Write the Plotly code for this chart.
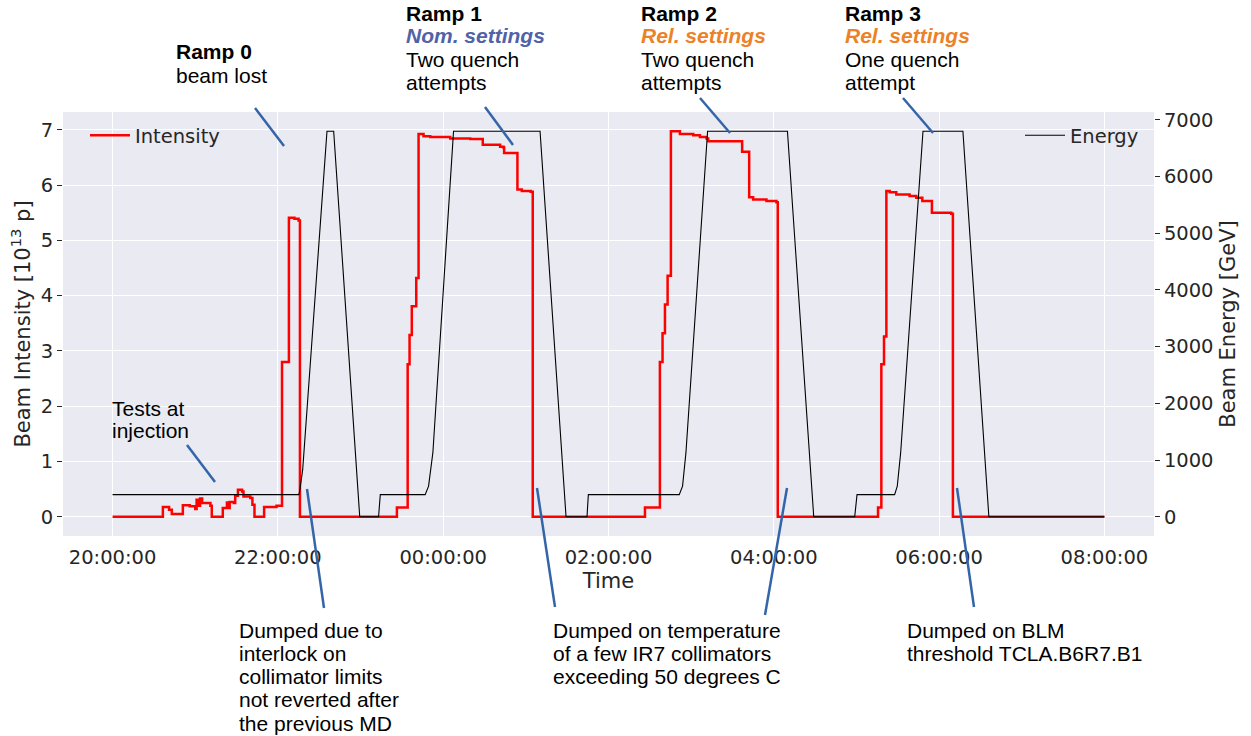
import plotly.graph_objects as go

# ---------------- data ----------------
intensity_time = [
    "2022-07-12 20:00:00", "2022-07-12 20:36:30", "2022-07-12 20:41:00", "2022-07-12 20:43:00",
    "2022-07-12 20:51:00", "2022-07-12 20:56:00", "2022-07-12 21:00:00", "2022-07-12 21:01:00",
    "2022-07-12 21:02:30", "2022-07-12 21:03:30", "2022-07-12 21:05:00", "2022-07-12 21:11:00",
    "2022-07-12 21:12:00", "2022-07-12 21:20:00", "2022-07-12 21:23:00", "2022-07-12 21:24:00",
    "2022-07-12 21:25:00", "2022-07-12 21:28:00", "2022-07-12 21:29:00", "2022-07-12 21:31:00",
    "2022-07-12 21:34:00", "2022-07-12 21:35:00", "2022-07-12 21:40:00", "2022-07-12 21:41:30",
    "2022-07-12 21:43:00", "2022-07-12 21:50:00", "2022-07-12 21:59:00", "2022-07-12 22:03:00",
    "2022-07-12 22:08:00", "2022-07-12 22:12:00", "2022-07-12 22:15:00", "2022-07-12 22:16:00",
    "2022-07-12 23:26:24", "2022-07-12 23:34:12", "2022-07-12 23:35:35", "2022-07-12 23:37:12",
    "2022-07-12 23:40:26", "2022-07-12 23:42:07", "2022-07-12 23:45:43", "2022-07-12 23:50:35",
    "2022-07-13 00:05:06", "2022-07-13 00:19:34", "2022-07-13 00:28:44", "2022-07-13 00:41:20",
    "2022-07-13 00:43:44", "2022-07-13 00:44:13", "2022-07-13 00:53:53", "2022-07-13 00:57:04",
    "2022-07-13 01:03:32", "2022-07-13 01:05:00", "2022-07-13 02:26:28", "2022-07-13 02:37:19",
    "2022-07-13 02:39:14", "2022-07-13 02:40:59", "2022-07-13 02:42:54", "2022-07-13 02:45:18",
    "2022-07-13 02:51:50", "2022-07-13 03:01:30", "2022-07-13 03:06:22", "2022-07-13 03:11:10",
    "2022-07-13 03:12:22", "2022-07-13 03:37:01", "2022-07-13 03:42:07", "2022-07-13 03:45:00",
    "2022-07-13 03:54:40", "2022-07-13 04:01:55", "2022-07-13 04:02:53", "2022-07-13 05:15:40",
    "2022-07-13 05:18:04", "2022-07-13 05:20:00", "2022-07-13 05:21:43", "2022-07-13 05:24:07",
    "2022-07-13 05:28:55", "2022-07-13 05:38:35", "2022-07-13 05:43:26", "2022-07-13 05:47:49",
    "2022-07-13 05:54:47", "2022-07-13 06:08:49", "2022-07-13 06:10:01", "2022-07-13 08:00:00",
]
intensity_value = [
    0.0, 0.18, 0.13, 0.05,
    0.21, 0.19, 0.14, 0.31,
    0.20, 0.33, 0.25, 0.20,
    0.0, 0.16, 0.26, 0.16,
    0.27, 0.25, 0.38, 0.49,
    0.46, 0.37, 0.34, 0.22,
    0.0, 0.18, 0.20, 2.80,
    5.41, 5.39, 5.36, 0.0,
    0.17, 2.76, 3.29, 3.81,
    4.32, 6.92, 6.88, 6.87,
    6.84, 6.83, 6.73, 6.69,
    6.68, 6.58, 5.92, 5.89,
    5.88, 0.0, 0.17, 2.80,
    3.32, 3.84, 4.36, 6.97,
    6.92, 6.90, 6.87, 6.84,
    6.79, 6.60, 5.78, 5.74,
    5.71, 5.69, 0.0, 0.17,
    2.76, 3.26, 5.89, 5.87,
    5.83, 5.80, 5.77, 5.71,
    5.50, 5.48, 0.0, 0.0,
]

energy_time = [
    "2022-07-12 20:00:00", "2022-07-12 22:15:07", "2022-07-12 22:15:50", "2022-07-12 22:16:48",
    "2022-07-12 22:18:00", "2022-07-12 22:35:38", "2022-07-12 22:40:30", "2022-07-12 22:59:24",
    "2022-07-12 23:13:05", "2022-07-12 23:14:20", "2022-07-12 23:46:55", "2022-07-12 23:49:23",
    "2022-07-12 23:51:04", "2022-07-12 23:52:30", "2022-07-13 00:07:30", "2022-07-13 01:10:19",
    "2022-07-13 01:29:10", "2022-07-13 01:44:24", "2022-07-13 01:45:22", "2022-07-13 02:51:22",
    "2022-07-13 02:53:46", "2022-07-13 02:54:58", "2022-07-13 02:56:13", "2022-07-13 03:11:56",
    "2022-07-13 04:09:54", "2022-07-13 04:28:59", "2022-07-13 04:58:44", "2022-07-13 05:00:25",
    "2022-07-13 05:27:43", "2022-07-13 05:29:38", "2022-07-13 05:30:50", "2022-07-13 05:32:06",
    "2022-07-13 05:48:18", "2022-07-13 06:17:17", "2022-07-13 06:36:07", "2022-07-13 08:00:00",
]
energy_value = [
    390, 390, 450, 600,
    830, 6800, 6800, 0,
    0, 390, 390, 540,
    830, 1130, 6800, 6800,
    0, 0, 390, 390,
    540, 830, 1130, 6800,
    6800, 0, 0, 390,
    390, 540, 830, 1130,
    6800, 6800, 0, 0,
]

x_tick_start = "2022-07-12 20:00:00"
x_range = ["2022-07-12 19:24:00", "2022-07-13 08:36:00"]
intensity_range = [-0.346, 7.32]
energy_range = [-340, 7140]

# ---------------- layout helpers ----------------
W, H = 1251, 736
PL, PR, PT, PB = 63, 1154, 112, 536
TEXT_FONT = "Liberation Sans, Arial, sans-serif"
AXIS_FONT = "DejaVu Sans, sans-serif"
INK = "#262626"
BLUE_LINE = "#3465a8"
NOM_BLUE = "#5162a8"
REL_ORANGE = "#ec8228"
TICK_SIZE = 19.5
TITLE_SIZE = 21
LEGEND_SIZE = 19.5


def fx(px):
    return (px - PL) / (PR - PL)


def fy(py):
    return (PB - py) / (PB - PT)


fig = go.Figure()
fig.add_trace(go.Scatter(
    x=intensity_time, y=intensity_value, mode="lines", name="Intensity",
    line=dict(color="#ff0000", width=2.5, shape="hv"), yaxis="y", legend="legend",
    showlegend=True,
))
fig.add_trace(go.Scatter(
    x=energy_time, y=energy_value, mode="lines", name="Energy",
    line=dict(color="#000000", width=1.1), yaxis="y2", legend="legend2",
    showlegend=True,
))

annotations = []


def label(text, x, y, size=21, color="black", bold=False, italic=False):
    t = text
    if bold:
        t = "<b>" + t + "</b>"
    if italic:
        t = "<i>" + t + "</i>"
    annotations.append(dict(
        text=t, xref="paper", yref="paper", x=fx(x), y=fy(y),
        xanchor="left", yanchor="middle", showarrow=False,
        font=dict(family=TEXT_FONT, size=size, color=color), borderpad=0,
    ))


# top notes
label("Ramp 0", 175, 52, bold=True)
label("beam lost", 175, 76)

ramp_names = ["Ramp 1", "Ramp 2", "Ramp 3"]
ramp_x = [405, 640, 844]
ramp_settings = ["Nom. settings", "Rel. settings", "Rel. settings"]
ramp_colors = [NOM_BLUE, REL_ORANGE, REL_ORANGE]
ramp_line3 = ["Two quench", "Two quench", "One quench"]
ramp_line4 = ["attempts", "attempts", "attempt"]
for name, x0, st, sc, l3, l4 in zip(ramp_names, ramp_x, ramp_settings, ramp_colors, ramp_line3, ramp_line4):
    label(name, x0, 13, bold=True)
    label(st, x0, 36, color=sc, bold=True, italic=True)
    label(l3, x0, 59)
    label(l4, x0, 82)

label("Tests at", 111, 408)
label("injection", 111, 430)

for i, s in enumerate(["Dumped due to", "interlock on", "collimator limits",
                       "not reverted after", "the previous MD"]):
    label(s, 238, 630 + i * 23.3)
for i, s in enumerate(["Dumped on temperature", "of a few IR7 collimators", "exceeding 50 degrees C"]):
    label(s, 552, 630 + i * 23.3)
for i, s in enumerate(["Dumped on BLM", "threshold TCLA.B6R7.B1"]):
    label(s, 906, 630 + i * 23.3)

pointer_lines = [
    (255, 108, 284, 146),
    (485, 107, 513, 145),
    (700, 98, 730, 133),
    (903, 98, 933, 133),
    (187, 445, 215, 482),
    (307, 489, 324, 608),
    (537, 488, 555, 607),
    (787, 488, 765, 615),
    (957, 488, 974, 607),
]
shapes = [
    dict(type="line", xref="paper", yref="paper", x0=fx(a), y0=fy(b), x1=fx(c), y1=fy(d),
         line=dict(color=BLUE_LINE, width=2.5), layer="above")
    for a, b, c, d in pointer_lines
]

fig.update_layout(
    width=W, height=H, showlegend=True,
    margin=dict(l=PL, r=W - PR, t=PT, b=H - PB, pad=0),
    paper_bgcolor="white", plot_bgcolor="#EAEAF2",
    font=dict(family=AXIS_FONT, color=INK, size=18),
    xaxis=dict(
        type="date", range=x_range, tick0=x_tick_start, dtick=2 * 3600 * 1000,
        tickformat="%H:%M:%S", showgrid=True, gridcolor="white", gridwidth=1.3,
        zeroline=False, showline=False, ticks="outside", ticklen=4, tickcolor="rgba(0,0,0,0)",
        automargin=False,
        tickfont=dict(family=AXIS_FONT, size=TICK_SIZE, color=INK),
        title=dict(text="Time", font=dict(family=AXIS_FONT, size=TITLE_SIZE, color=INK), standoff=0),
    ),
    yaxis=dict(
        range=intensity_range, tick0=0, dtick=1, showgrid=True, gridcolor="white", gridwidth=1.3,
        zeroline=False, showline=False, ticks="outside", ticklen=5, tickcolor=INK, tickwidth=1,
        automargin=False, tickfont=dict(family=AXIS_FONT, size=TICK_SIZE, color=INK),
        title=dict(text="Beam Intensity [10<sup>13</sup> p]",
                   font=dict(family=AXIS_FONT, size=TITLE_SIZE, color=INK), standoff=4),
    ),
    yaxis2=dict(
        range=energy_range, tick0=0, dtick=1000, overlaying="y", side="right",
        showgrid=False, zeroline=False, showline=False, ticks="outside", ticklen=5,
        tickcolor=INK, tickwidth=1, automargin=False,
        tickfont=dict(family=AXIS_FONT, size=TICK_SIZE, color=INK),
        title=dict(text="Beam Energy [GeV]", font=dict(family=AXIS_FONT, size=TITLE_SIZE, color=INK),
                   standoff=7),
    ),
    legend=dict(x=fx(85), y=fy(116), xanchor="left", yanchor="top", bgcolor="rgba(0,0,0,0)",
                font=dict(family=AXIS_FONT, size=LEGEND_SIZE, color=INK), itemwidth=40,
                visible=True),
    legend2=dict(x=fx(1020), y=fy(116), xanchor="left", yanchor="top", bgcolor="rgba(0,0,0,0)",
                 font=dict(family=AXIS_FONT, size=LEGEND_SIZE, color=INK), itemwidth=40,
                 visible=True),
    annotations=annotations,
    shapes=shapes,
)

fig.write_html("out.html")
